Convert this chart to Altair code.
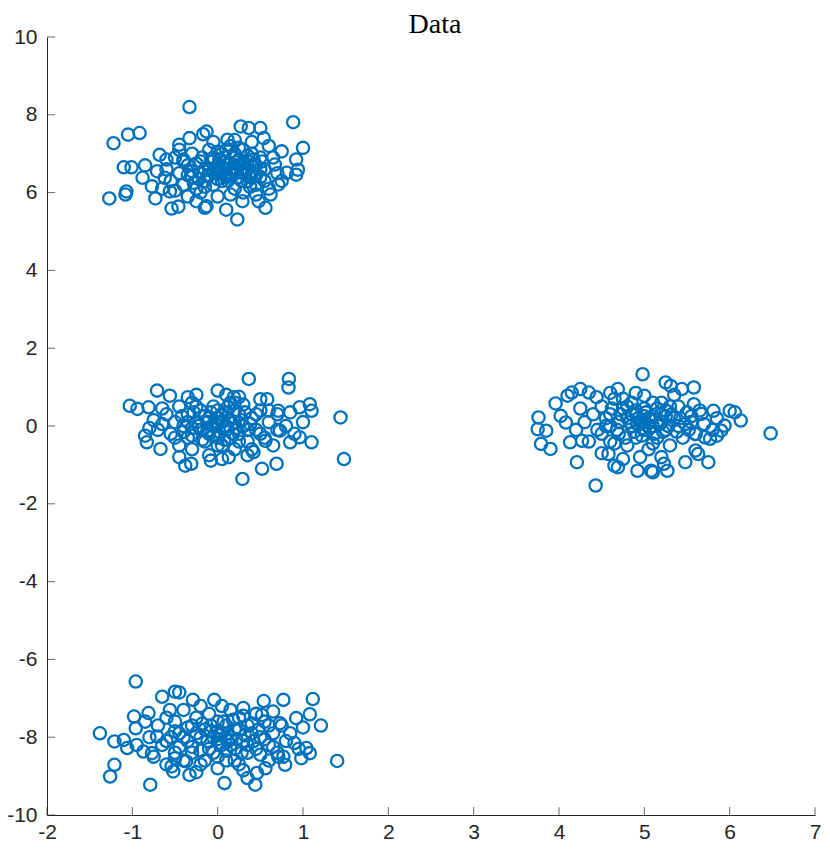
import altair as alt
import pandas as pd

# ---- data (x, y) ----
top_left = [
    (-0.33, 8.2), (-1.22, 7.27), (-1.05, 7.49), (-0.915, 7.53), (-1.10, 6.65), (-1.01, 6.65),
    (-0.85, 6.70), (-0.88, 6.38), (-1.27, 5.85), (-1.07, 6.03), (-1.08, 5.95), (-0.73, 5.85),
    (-0.54, 5.59), (-0.46, 5.64), (-0.68, 6.97), (-0.77, 6.16), (-0.71, 6.55), (-0.45, 7.23),
    (-0.33, 7.40), (-0.17, 7.50), (-0.62, 6.38), (-0.56, 6.03), (-0.25, 5.78), (-0.15, 5.61),
    (-0.40, 6.80), (0.885, 7.81), (0.27, 7.70), (0.365, 7.66), (0.50, 7.66), (1.0, 7.15),
    (0.75, 7.06), (0.92, 6.85), (0.94, 6.59), (0.92, 6.46), (0.81, 6.51), (0.71, 6.21),
    (0.56, 5.61), (0.48, 5.78), (0.23, 5.31), (0.10, 5.56), (-0.13, 5.65), (0.29, 5.78),
    (0.115, 7.36), (0.54, 7.40), (-0.13, 7.57), (0.67, 6.72), (0.62, 5.95),
    (-0.5, 6.9), (-0.45, 6.5), (-0.4, 6.2), (-0.35, 6.7), (-0.3, 7.0), (-0.3, 6.4), (-0.25, 6.1),
    (-0.2, 6.8), (-0.2, 6.5), (-0.15, 6.3), (-0.1, 7.1), (-0.1, 6.6), (-0.05, 6.2), (-0.05, 6.9),
    (0.0, 6.5), (0.0, 6.7), (0.05, 6.3), (0.05, 7.0), (0.1, 6.6), (0.1, 6.4), (0.1, 6.8),
    (0.15, 6.5), (0.15, 7.2), (0.2, 6.6), (0.2, 6.1), (0.2, 6.9), (0.25, 6.7), (0.25, 6.4),
    (0.3, 6.6), (0.3, 7.1), (0.35, 6.3), (0.35, 6.8), (0.4, 6.5), (0.4, 7.0), (0.45, 6.2),
    (0.45, 6.7), (0.5, 6.4), (0.5, 6.9), (0.55, 6.6), (0.6, 7.2), (0.6, 6.1), (0.65, 6.9),
    (-0.55, 6.3), (-0.6, 6.6), (-0.65, 6.1), (-0.5, 6.05), (-0.35, 5.9), (0.0, 5.9), (0.15, 5.95),
    (0.3, 6.0), (0.4, 7.3), (0.2, 7.35), (-0.05, 7.3), (-0.45, 7.1), (-0.6, 6.85), (0.05, 6.55),
    (0.12, 6.72), (0.18, 6.58), (0.08, 6.45), (-0.02, 6.62), (0.28, 6.52), (0.22, 6.78),
    (-0.12, 6.42), (0.35, 6.6), (0.55, 6.3), (0.7, 6.5), (0.75, 6.3), (-0.2, 6.0), (0.45, 5.95),
    (-0.4, 6.85),
    (-0.3, 6.55), (-0.25, 6.75), (-0.22, 6.35), (-0.18, 6.9), (-0.15, 6.6), (-0.1, 6.45),
    (-0.08, 6.8), (-0.05, 6.55), (0.0, 6.35), (0.02, 6.85), (0.05, 6.65), (0.08, 6.9),
    (0.1, 6.5), (0.12, 6.3), (0.15, 6.75), (0.18, 6.45), (0.2, 7.0), (0.22, 6.55),
    (0.25, 6.85), (0.28, 6.3), (0.3, 6.75), (0.32, 6.5), (0.35, 6.95), (0.38, 6.4),
    (0.4, 6.7), (0.42, 6.85), (0.45, 6.45), (0.5, 6.6), (0.52, 6.8), (-0.28, 6.25),
    (-0.35, 6.45), (0.0, 7.05), (0.1, 7.1), (0.25, 7.15), (-0.15, 6.15), (0.38, 6.15),
]

middle_left = [
    (-1.03, 0.52), (-0.94, 0.44), (-0.81, 0.48), (-0.71, 0.91), (-0.56, 0.78), (-0.85, -0.25),
    (-0.83, -0.42), (-0.67, -0.59), (-0.38, -1.02), (-0.31, -0.97), (-0.08, -0.89), (0.0, 0.91),
    (-0.35, 0.74), (-0.65, 0.05), (0.365, 1.21), (0.835, 1.21), (0.83, 0.99), (1.44, 0.22),
    (1.48, -0.85), (0.29, -1.36), (0.52, -1.10), (0.69, -0.97), (1.10, -0.42), (1.08, 0.56),
    (1.10, 0.39), (0.96, 0.48), (0.50, 0.69), (0.58, 0.69), (0.71, 0.39), (0.96, -0.29),
    (0.85, -0.42), (0.73, -0.12), (0.56, -0.38), (0.42, -0.67), (0.19, 0.74), (0.13, -0.80),
    (-0.6, 0.3), (-0.55, -0.2), (-0.5, 0.1), (-0.45, 0.5), (-0.45, -0.5), (-0.4, 0.0),
    (-0.35, 0.3), (-0.35, -0.3), (-0.3, 0.6), (-0.3, -0.6), (-0.25, 0.1), (-0.2, -0.1),
    (-0.2, 0.4), (-0.15, -0.4), (-0.1, 0.2), (-0.1, -0.2), (-0.05, 0.5), (-0.05, 0.0),
    (0.0, -0.3), (0.0, 0.2), (0.05, 0.1), (0.05, -0.5), (0.1, 0.35), (0.1, -0.1), (0.15, 0.6),
    (0.15, -0.3), (0.2, 0.1), (0.2, -0.6), (0.25, 0.3), (0.25, -0.2), (0.3, 0.0), (0.3, 0.55),
    (0.35, -0.4), (0.4, 0.2), (0.45, -0.1), (0.5, 0.4), (0.55, -0.3), (0.6, 0.1), (0.65, -0.5),
    (0.7, 0.3), (-0.7, -0.1), (-0.65, 0.45), (-0.75, 0.15), (-0.8, -0.05), (0.8, 0.0),
    (0.85, 0.35), (0.9, -0.2), (1.0, 0.1), (-0.25, 0.8), (0.1, 0.8), (0.25, 0.75), (-0.1, -0.75),
    (0.35, -0.75), (-0.45, -0.8), (0.05, -0.85), (-0.02, 0.05), (0.08, -0.02), (-0.12, 0.1),
    (0.12, 0.15), (0.0, 0.4), (-0.3, -0.05), (0.4, -0.6),
    (-0.35, 0.1), (-0.3, -0.25), (-0.28, 0.35), (-0.22, 0.0), (-0.18, -0.35), (-0.15, 0.25),
    (-0.12, -0.12), (-0.08, 0.35), (-0.05, -0.25), (0.0, 0.1), (0.02, -0.15), (0.05, 0.3),
    (0.08, -0.35), (0.1, 0.0), (0.12, 0.5), (0.15, 0.15), (0.18, -0.2), (0.2, 0.4),
    (0.22, -0.05), (0.25, -0.4), (0.28, 0.15), (0.32, 0.35), (0.35, -0.1), (0.38, 0.05),
    (-0.4, -0.15), (-0.42, 0.25), (0.45, 0.3), (0.5, -0.2), (-0.25, 0.5), (0.0, -0.5),
    (0.2, 0.6), (-0.5, -0.3), (0.6, 0.4), (0.7, -0.1),
]

right = [
    (4.98, 1.33), (3.76, 0.22), (3.75, -0.08), (3.85, -0.12), (3.79, -0.46), (3.90, -0.59),
    (3.96, 0.58), (4.02, 0.26), (4.08, 0.09), (4.13, -0.42), (4.21, -0.93), (4.43, -1.53),
    (4.10, 0.78), (4.15, 0.86), (4.25, 0.95), (4.35, 0.86), (4.44, 0.74), (4.69, 0.95),
    (5.0, 0.78), (4.27, -0.38), (4.58, -0.72), (4.65, -1.02), (4.69, -1.06), (4.92, -1.15),
    (5.08, -1.15), (6.48, -0.19), (6.13, 0.14), (6.0, 0.39), (6.06, 0.35), (5.94, 0.01),
    (5.90, -0.12), (5.85, -0.25), (5.77, -0.33), (5.71, -0.29), (5.81, 0.39), (5.75, -0.93),
    (5.63, -0.72), (5.60, -0.63), (5.48, -0.93), (5.23, -0.97), (5.27, -1.15), (5.10, -1.19),
    (5.25, 1.12), (5.31, 1.03), (5.58, 0.99), (5.44, 0.95), (5.58, 0.56), (5.67, 0.31),
    (5.60, -0.21),
    (4.4, 0.3), (4.45, -0.1), (4.5, 0.5), (4.55, 0.0), (4.6, -0.4), (4.6, 0.3), (4.65, 0.7),
    (4.7, 0.1), (4.7, -0.2), (4.75, 0.45), (4.8, -0.5), (4.8, 0.2), (4.85, 0.0), (4.85, 0.6),
    (4.9, -0.3), (4.9, 0.3), (4.95, 0.1), (5.0, -0.1), (5.0, 0.45), (5.05, 0.2), (5.05, -0.6),
    (5.1, 0.0), (5.1, 0.6), (5.15, -0.3), (5.2, 0.3), (5.2, 0.1), (5.25, -0.1), (5.3, 0.5),
    (5.3, -0.5), (5.35, 0.2), (5.4, 0.0), (5.45, -0.3), (5.5, 0.35), (5.55, 0.1), (5.6, -0.2),
    (5.65, 0.4), (5.7, 0.05), (4.3, 0.1), (4.35, -0.4), (4.25, 0.45), (4.5, -0.7), (4.75, -0.85),
    (4.95, -0.8), (5.2, -0.8), (5.35, 0.8), (4.9, 0.85), (4.6, 0.85), (5.0, 0.25), (4.92, 0.05),
    (5.08, 0.15), (4.98, -0.05), (5.25, 0.25), (4.85, 0.3), (5.8, -0.1), (5.85, 0.2), (4.2, -0.1),
    (4.55, 0.2), (4.6, 0.0), (4.62, 0.45), (4.68, -0.1), (4.72, 0.3), (4.78, -0.3),
    (4.8, 0.5), (4.83, 0.1), (4.88, -0.15), (4.9, 0.4), (4.93, 0.2), (4.97, -0.25),
    (5.0, 0.1), (5.02, 0.35), (5.06, -0.05), (5.1, 0.25), (5.12, -0.2), (5.15, 0.45),
    (5.18, 0.05), (5.22, -0.15), (5.25, 0.4), (5.28, 0.0), (5.32, 0.3), (5.38, -0.15),
    (5.42, 0.2), (5.48, 0.05), (5.52, -0.1), (4.5, -0.2), (4.65, -0.45), (5.2, 0.6),
    (5.4, 0.5), (4.75, 0.7), (5.1, -0.45), (5.55, 0.25),
]

bottom = [
    (-0.96, -6.57), (-0.65, -6.96), (-0.50, -6.83), (-0.45, -6.85), (-1.38, -7.90), (-1.21, -8.11),
    (-1.10, -8.07), (-1.06, -8.28), (-1.21, -8.71), (-1.26, -9.01), (-0.79, -9.22), (-0.98, -7.47),
    (-0.96, -7.77), (-0.81, -7.38), (-0.87, -8.37), (-0.77, -8.41), (-0.56, -7.30), (-0.29, -7.04),
    (-0.50, -8.54), (-0.52, -8.88), (-0.54, -8.75), (-0.33, -8.97), (-0.37, -8.62), (-0.71, -7.98),
    (1.115, -7.02), (0.77, -7.04), (0.54, -7.07), (-0.04, -7.04), (1.21, -7.70), (1.08, -7.41),
    (0.92, -7.51), (1.0, -7.75), (1.40, -8.61), (1.08, -8.41), (1.04, -8.28), (0.98, -8.54),
    (0.90, -8.15), (0.77, -8.50), (0.79, -8.71), (0.71, -8.50), (0.46, -8.92), (0.35, -9.05),
    (0.44, -9.22), (0.08, -9.18), (0.56, -8.80), (0.73, -7.64), (0.65, -7.34), (0.52, -7.43),
    (-0.7, -7.7), (-0.65, -8.2), (-0.6, -7.5), (-0.55, -8.0), (-0.5, -8.4), (-0.5, -7.6),
    (-0.45, -7.9), (-0.4, -8.6), (-0.4, -7.3), (-0.35, -8.1), (-0.3, -7.7), (-0.3, -8.4),
    (-0.25, -7.5), (-0.2, -8.0), (-0.2, -8.7), (-0.15, -7.8), (-0.1, -8.3), (-0.1, -7.4),
    (-0.05, -8.0), (0.0, -7.6), (0.0, -8.5), (0.05, -7.9), (0.05, -8.2), (0.1, -7.7), (0.1, -8.6),
    (0.15, -8.0), (0.15, -7.3), (0.2, -8.3), (0.2, -7.8), (0.25, -8.7), (0.25, -7.5), (0.3, -8.1),
    (0.35, -7.7), (0.35, -8.4), (0.4, -7.9), (0.45, -7.4), (0.45, -8.3), (0.5, -8.0), (0.55, -7.6),
    (0.6, -8.2), (0.65, -7.9), (0.7, -8.4), (0.75, -7.7), (0.8, -8.1), (0.85, -7.9), (-0.8, -8.0),
    (-0.85, -7.6), (-0.75, -8.5), (-0.6, -8.7), (-0.25, -8.9), (0.0, -8.8), (0.3, -8.85),
    (0.6, -8.6), (-0.2, -7.2), (0.05, -7.2), (0.3, -7.25), (0.0, -8.05), (0.02, -7.95),
    (-0.08, -7.85), (0.12, -8.1), (0.95, -8.3), (-0.95, -8.2),
    (-0.4, -8.0), (-0.35, -7.75), (-0.3, -8.25), (-0.25, -7.9), (-0.2, -8.35), (-0.18, -7.65),
    (-0.12, -8.1), (-0.08, -7.7), (-0.05, -8.4), (0.0, -7.85), (0.03, -8.15), (0.07, -7.6),
    (0.1, -8.35), (0.12, -7.9), (0.15, -8.2), (0.18, -7.55), (0.22, -8.05), (0.25, -7.8),
    (0.28, -8.4), (0.32, -7.95), (0.35, -8.2), (0.4, -7.65), (0.42, -8.1), (0.48, -7.8),
    (0.5, -8.45), (0.55, -8.05), (-0.45, -8.25), (-0.5, -7.85), (-0.15, -8.6), (0.2, -8.6),
    (0.6, -7.7), (-0.6, -8.1), (0.65, -8.25), (0.3, -7.45),
]

title_text = ["Data"]
x_ticks = [-2, -1, 0, 1, 2, 3, 4, 5, 6, 7]
y_ticks = [-10, -8, -6, -4, -2, 0, 2, 4, 6, 8, 10]
x_domain = [-2, 7]
y_domain = [-10, 10]

pts = top_left + middle_left + right + bottom
df = pd.DataFrame(pts, columns=["x", "y"])
df_xt = pd.DataFrame({"t": x_ticks})
df_yt = pd.DataFrame({"t": y_ticks})
df_title = pd.DataFrame({"title": title_text})

AX = "#262626"
BLUE = "#0072BD"
W, H = 768, 778

xs = alt.Scale(domain=x_domain, nice=False, zero=False)
ys = alt.Scale(domain=y_domain, nice=False, zero=False)

plain = "'' + datum.value"

points = alt.Chart(df).mark_point(
    shape="circle", filled=False, color=BLUE, strokeWidth=2.3, size=150, opacity=1
).encode(
    x=alt.X("x:Q", scale=xs, axis=alt.Axis(values=x_ticks, title=None, labelExpr=plain)),
    y=alt.Y("y:Q", scale=ys, axis=alt.Axis(values=y_ticks, title=None, labelExpr=plain)),
)

xtick = alt.Chart(df_xt).mark_tick(
    orient="vertical", color=AX, size=8, thickness=1, yOffset=-4
).encode(x=alt.X("t:Q", scale=xs), y=alt.datum(-10))

ytick = alt.Chart(df_yt).mark_tick(
    orient="horizontal", color=AX, size=8, thickness=1, xOffset=4
).encode(y=alt.Y("t:Q", scale=ys), x=alt.datum(-2))

# chart title, drawn as text just above the plot area
title = alt.Chart(df_title).mark_text(
    font="Liberation Serif", fontSize=28, color="black", align="center",
    baseline="alphabetic", clip=False
).encode(text="title:N", x=alt.value(W / 2 + 4), y=alt.value(-4))

chart = alt.layer(points, xtick, ytick, title).properties(
    width=W,
    height=H,
    autosize=alt.AutoSizeParams(type="none"),
    padding={"left": 39, "top": 29, "right": 7, "bottom": 28},
).configure_view(stroke=None).configure_axis(
    grid=False, ticks=False, domainColor=AX, domainWidth=1, labelFlush=False,
    labelFont="Liberation Sans", labelFontSize=21, labelColor=AX,
).configure_axisX(labelPadding=6).configure_axisY(labelPadding=10)

chart.save("out.html", embed_options={"renderer": "svg", "actions": False})
